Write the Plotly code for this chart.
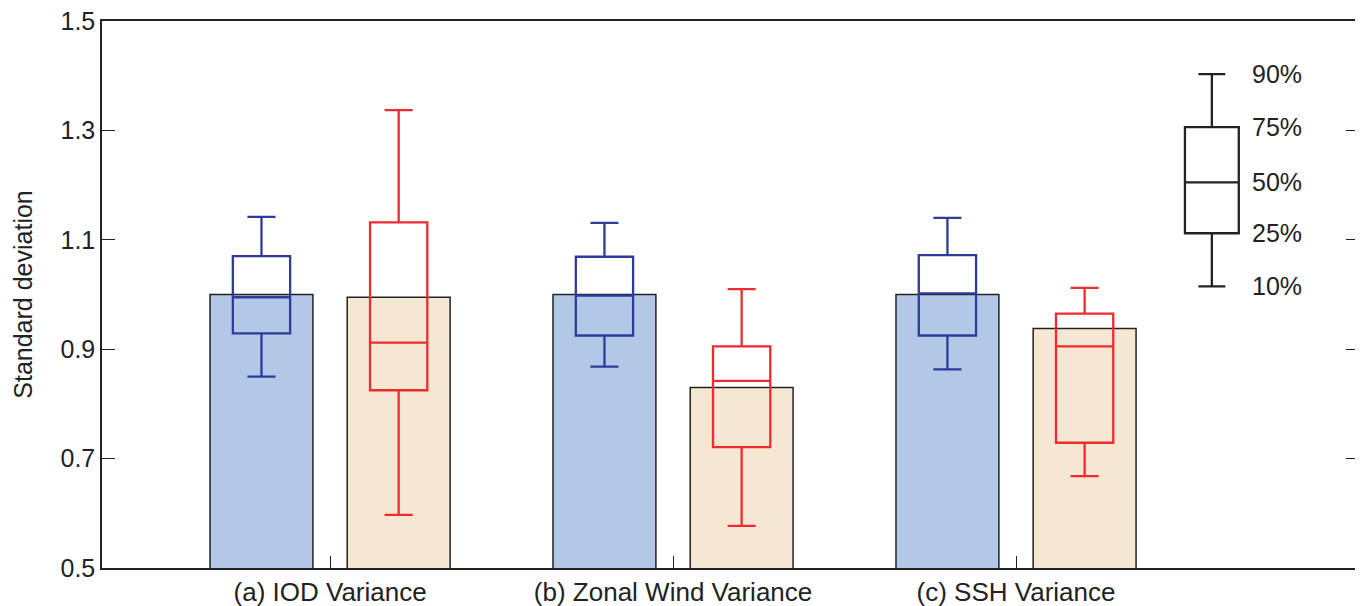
import plotly.graph_objects as go

# ---- data ----
categories = ["(a) IOD Variance", "(b) Zonal Wind Variance", "(c) SSH Variance"]
cat_pos = [1, 2, 3]

blue_bar = [1.000, 1.000, 1.000]
beige_bar = [0.995, 0.830, 0.938]

blue_p10 = [0.850, 0.868, 0.863]
blue_p25 = [0.929, 0.925, 0.925]
blue_p50 = [0.995, 0.998, 1.002]
blue_p75 = [1.070, 1.069, 1.072]
blue_p90 = [1.142, 1.131, 1.140]

red_p10 = [0.597, 0.577, 0.668]
red_p25 = [0.825, 0.721, 0.729]
red_p50 = [0.912, 0.842, 0.905]
red_p75 = [1.132, 0.905, 0.965]
red_p90 = [1.337, 1.010, 1.012]

key_labels = ["10%", "25%", "50%", "75%", "90%"]
key_values = [1.015, 1.112, 1.205, 1.306, 1.403]

y_ticks = [0.5, 0.7, 0.9, 1.1, 1.3, 1.5]
y_ticktext = ["0.5", "0.7", "0.9", "1.1", "1.3", "1.5"]

# ---- styling ----
BLUE_FILL = "#B3C8E6"
BEIGE_FILL = "#F6E7D3"
BLUE_LINE = "#2E3B9B"
RED_LINE = "#EE2B30"
FONT = "Liberation Sans, Arial, sans-serif"
offset = 0.2
bar_w = 0.30
box_w = 0.167

blue_x = [c - offset for c in cat_pos]
red_x = [c + offset for c in cat_pos]

fig = go.Figure()

fig.add_trace(go.Bar(x=blue_x, y=blue_bar, width=bar_w, marker=dict(color=BLUE_FILL,
                     line=dict(color="#222222", width=1.5)), showlegend=False, hoverinfo="y"))
fig.add_trace(go.Bar(x=red_x, y=beige_bar, width=bar_w, marker=dict(color=BEIGE_FILL,
                     line=dict(color="#222222", width=1.5)), showlegend=False, hoverinfo="y"))

fig.add_trace(go.Box(x=blue_x, q1=blue_p25, median=blue_p50, q3=blue_p75,
                     lowerfence=blue_p10, upperfence=blue_p90, width=box_w, whiskerwidth=0.49,
                     line=dict(color=BLUE_LINE, width=2.3), fillcolor="rgba(0,0,0,0)",
                     showlegend=False, boxpoints=False))
fig.add_trace(go.Box(x=red_x, q1=red_p25, median=red_p50, q3=red_p75,
                     lowerfence=red_p10, upperfence=red_p90, width=box_w, whiskerwidth=0.49,
                     line=dict(color=RED_LINE, width=2.3), fillcolor="rgba(0,0,0,0)",
                     showlegend=False, boxpoints=False))

# key box
key_x = 3.571
fig.add_trace(go.Box(x=[key_x], q1=[key_values[1]], median=[key_values[2]], q3=[key_values[3]],
                     lowerfence=[key_values[0]], upperfence=[key_values[4]], width=0.157,
                     whiskerwidth=0.5, line=dict(color="#222222", width=2.3),
                     fillcolor="rgba(0,0,0,0)", showlegend=False, boxpoints=False))
for lab, v in zip(key_labels, key_values):
    fig.add_annotation(x=3.682, y=v, text=lab, showarrow=False, xanchor="left",
                       yanchor="middle", font=dict(size=25, color="#222222", family=FONT))

# page body has an 8px margin, so the figure is sized to fit inside the window
fig.update_layout(
    width=1355, height=598,
    margin=dict(l=94, r=4, t=13, b=38),
    paper_bgcolor="white", plot_bgcolor="white",
    barmode="overlay", boxmode="overlay",
    font=dict(family=FONT, size=25, color="#222222"),
)
fig.update_xaxes(range=[0.335, 4.0], tickvals=cat_pos, ticktext=categories,
                 ticks="inside", ticklen=12, tickwidth=1.2, tickcolor="#222222",
                 showline=True, linecolor="#222222", linewidth=1.5, mirror=True,
                 showgrid=False, zeroline=False, automargin=False,
                 tickfont=dict(size=26), ticklabeloverflow="allow")
fig.update_yaxes(range=[0.5, 1.5], tickvals=y_ticks, ticktext=y_ticktext,
                 ticks="inside", ticklen=13, tickwidth=1.2, tickcolor="#222222",
                 showline=True, linecolor="#222222", linewidth=1.5, mirror="ticks",
                 showgrid=False, zeroline=False, automargin=False,
                 tickfont=dict(size=25), ticklabeloverflow="allow",
                 title=dict(text="Standard deviation", font=dict(size=25), standoff=21))

fig.write_html("out.html")
